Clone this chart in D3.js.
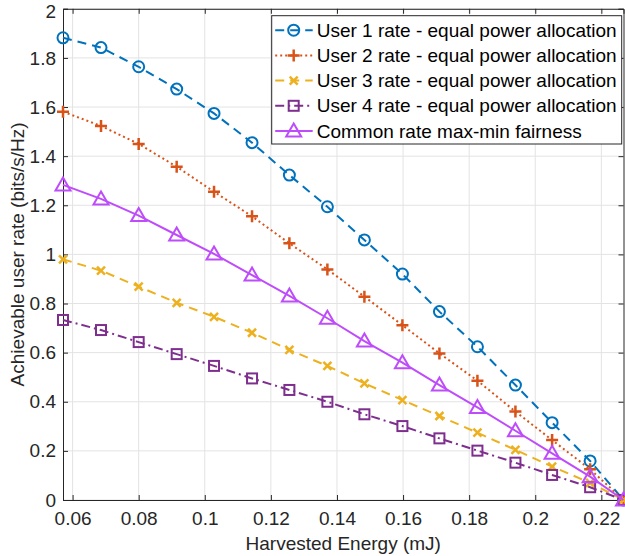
<!DOCTYPE html>
<html>
<head>
<meta charset="utf-8">
<script src="https://cdn.jsdelivr.net/npm/d3@7"></script>
<style>
  html, body { margin: 0; padding: 0; background: #fff; }
  svg { display: block; font-family: "Liberation Sans", Arial, Helvetica, sans-serif; }
</style>
</head>
<body>
<div id="chart"></div>
<script>
// harvested energy (mJ), one value per marker
const energy = [0.0571, 0.0686, 0.0800, 0.0915, 0.1028, 0.1143, 0.1256, 0.1371,
  0.1483, 0.1598, 0.1710, 0.1825, 0.1940, 0.2051, 0.2166, 0.2267];

const user1 = [1.882, 1.842, 1.764, 1.673, 1.574, 1.455, 1.323, 1.194,
  1.059, 0.920, 0.767, 0.624, 0.468, 0.315, 0.159, 0];
const user2 = [1.581, 1.523, 1.450, 1.357, 1.255, 1.155, 1.045, 0.939,
  0.828, 0.712, 0.597, 0.486, 0.360, 0.244, 0.125, 0];
const user3 = [0.980, 0.934, 0.869, 0.803, 0.746, 0.681, 0.611, 0.546,
  0.475, 0.407, 0.342, 0.274, 0.204, 0.136, 0.070, 0];
const user4 = [0.733, 0.692, 0.643, 0.594, 0.546, 0.495, 0.448, 0.400,
  0.349, 0.301, 0.251, 0.201, 0.152, 0.102, 0.052, 0];
const common = [1.283, 1.226, 1.158, 1.079, 1.002, 0.916, 0.831, 0.740,
  0.647, 0.559, 0.468, 0.377, 0.282, 0.190, 0.095, 0];

const seriesNames = [
  "User 1 rate - equal power allocation",
  "User 2 rate - equal power allocation",
  "User 3 rate - equal power allocation",
  "User 4 rate - equal power allocation",
  "Common rate max-min fairness"
];

const xTicks = [0.06, 0.08, 0.1, 0.12, 0.14, 0.16, 0.18, 0.2, 0.22];
const yTicks = [0, 0.2, 0.4, 0.6, 0.8, 1, 1.2, 1.4, 1.6, 1.8, 2];
const xLabel = "Harvested Energy (mJ)";
const yLabel = "Achievable user rate (bits/s/Hz)";

const W = 625, H = 556;
const plot = { left: 63, right: 623.5, top: 8.8, bottom: 500 };
const axisColor = "#262626";
const fontSize = 19;

const styles = [
  { values: user1, color: "#0072BD", dash: "9,6", marker: "circle" },
  { values: user2, color: "#D95319", dash: "2,3", marker: "plus" },
  { values: user3, color: "#EDB120", dash: "9,6", marker: "cross" },
  { values: user4, color: "#7E2F8E", dash: "9,4,2,4", marker: "square" },
  { values: common, color: "#BE4CFB", dash: null, marker: "triangle" }
];

const svg = d3.select("#chart").append("svg").attr("width", W).attr("height", H);

const x = d3.scaleLinear().domain([0.0571, 0.2267]).range([plot.left, plot.right]);
const y = d3.scaleLinear().domain([0, 2]).range([plot.bottom, plot.top]);

// grid
const grid = svg.append("g");
grid.selectAll("line.gx").data(xTicks).join("line")
  .attr("x1", d => x(d)).attr("x2", d => x(d))
  .attr("y1", plot.top).attr("y2", plot.bottom)
  .attr("stroke", "#e3e3e3").attr("stroke-width", 1);
grid.selectAll("line.gy").data(yTicks).join("line")
  .attr("y1", d => y(d)).attr("y2", d => y(d))
  .attr("x1", plot.left).attr("x2", plot.right)
  .attr("stroke", "#e3e3e3").attr("stroke-width", 1);

// axes (ticks pointing inward, box on)
const tickLen = 5;
const fmt = d => d3.format("")(d);
const xAxis = svg.append("g").attr("transform", `translate(0,${plot.bottom})`)
  .call(d3.axisBottom(x).tickValues(xTicks).tickSize(-tickLen).tickPadding(12).tickFormat(fmt));
const xAxisTop = svg.append("g").attr("transform", `translate(0,${plot.top})`)
  .call(d3.axisTop(x).tickValues(xTicks).tickSize(-tickLen).tickFormat(""));
const yAxis = svg.append("g").attr("transform", `translate(${plot.left},0)`)
  .call(d3.axisLeft(y).tickValues(yTicks).tickSize(-tickLen).tickPadding(7).tickFormat(fmt));
const yAxisRight = svg.append("g").attr("transform", `translate(${plot.right},0)`)
  .call(d3.axisRight(y).tickValues(yTicks).tickSize(-tickLen).tickFormat(""));

[xAxis, xAxisTop, yAxis, yAxisRight].forEach(a => {
  a.attr("font-size", null).attr("font-family", null);
  a.select(".domain").attr("stroke", axisColor).attr("stroke-width", 1);
  a.selectAll(".tick line").attr("stroke", axisColor);
  a.selectAll(".tick text").attr("fill", axisColor).style("font-size", fontSize + "px");
});
// top label sits a little lower so it stays inside the page
yAxis.selectAll(".tick text").filter(d => d === 2).attr("dy", "0.45em");

// lines
const line = d3.line().x((d, i) => x(energy[i])).y(d => y(d));

function drawMarker(g, type, color) {
  const sw = 2;
  if (type === "circle") {
    g.append("circle").attr("r", 5.5).attr("fill", "none").attr("stroke", color).attr("stroke-width", sw);
  } else if (type === "plus") {
    g.append("path").attr("d", "M-6,0H6M0,-6V6").attr("stroke", color).attr("stroke-width", sw + 0.5);
  } else if (type === "cross") {
    g.append("path").attr("d", "M-4,-4L4,4M-4,4L4,-4").attr("stroke", color).attr("stroke-width", sw + 0.5);
  } else if (type === "square") {
    g.append("rect").attr("x", -5).attr("y", -5).attr("width", 10).attr("height", 10)
      .attr("fill", "none").attr("stroke", color).attr("stroke-width", sw);
  } else if (type === "triangle") {
    g.append("path").attr("d", "M0,-7.5L7.5,5.5L-7.5,5.5Z")
      .attr("fill", "none").attr("stroke", color).attr("stroke-width", sw);
  }
}

const series = svg.append("g");
styles.forEach(s => {
  series.append("path")
    .attr("d", line(s.values))
    .attr("fill", "none")
    .attr("stroke", s.color)
    .attr("stroke-width", 2)
    .attr("stroke-dasharray", s.dash);
  const pts = series.append("g").selectAll("g").data(s.values).join("g")
    .attr("transform", (d, i) => `translate(${x(energy[i])},${y(d)})`);
  pts.each(function () { drawMarker(d3.select(this), s.marker, s.color); });
});

// legend
const leg = { x: 271.7, y: 15.7, w: 350, h: 128.3, row: 25.2 };
const legend = svg.append("g");
legend.append("rect")
  .attr("x", leg.x).attr("y", leg.y).attr("width", leg.w).attr("height", leg.h)
  .attr("fill", "#fff").attr("stroke", axisColor).attr("stroke-width", 1);
styles.forEach((s, i) => {
  const cy = leg.y + 14.5 + i * leg.row;
  legend.append("line")
    .attr("x1", leg.x + 3.5).attr("x2", leg.x + 41)
    .attr("y1", cy).attr("y2", cy)
    .attr("stroke", s.color).attr("stroke-width", 2)
    .attr("stroke-dasharray", s.dash);
  drawMarker(legend.append("g").attr("transform", `translate(${leg.x + 22},${cy})`), s.marker, s.color);
  legend.append("text")
    .attr("x", leg.x + 45).attr("y", cy).attr("dy", "0.35em")
    .style("font-size", fontSize + "px").attr("fill", "#000")
    .text(seriesNames[i]);
});

// axis labels
svg.append("text")
  .attr("x", (plot.left + plot.right) / 2).attr("y", 550)
  .attr("text-anchor", "middle").style("font-size", fontSize + "px").attr("fill", axisColor)
  .text(xLabel);
svg.append("text")
  .attr("transform", `translate(24,${(plot.top + plot.bottom) / 2}) rotate(-90)`)
  .attr("text-anchor", "middle").style("font-size", fontSize + "px").attr("fill", axisColor)
  .text(yLabel);
</script>
</body>
</html>
